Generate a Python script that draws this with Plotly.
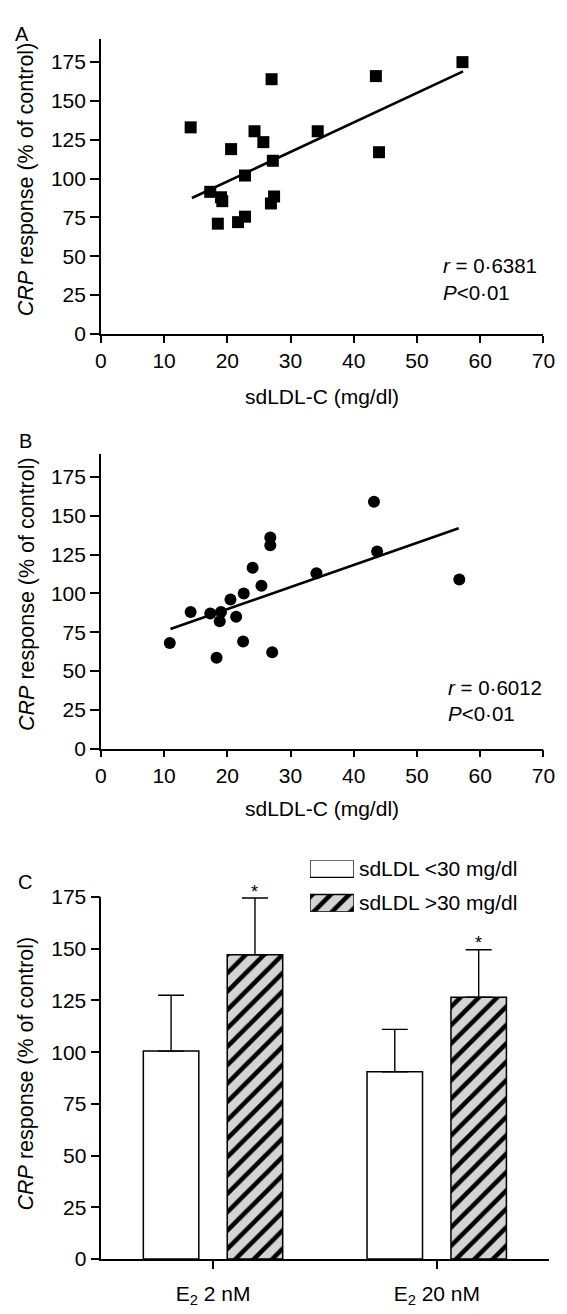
import plotly.graph_objects as go

# ---------------- data ----------------
# Panel A: sdLDL-C (mg/dl) vs CRP response (% of control), E2 2 nM
a_x = [14.2, 17.3, 19.0, 19.2, 18.5, 20.6, 21.7, 22.8, 22.8, 24.3, 25.7, 27.2, 27.0, 26.9, 27.4, 34.3, 43.5, 44.0, 57.2]
a_y = [133, 91.5, 88, 85.5, 71, 119, 72, 75.5, 102, 130.5, 123.5, 111.5, 164, 84, 88.5, 130.5, 166, 117, 175]
a_fit_x = [14.4, 57.3]
a_fit_y = [87.5, 169]
a_stats = ["<i>r</i> = 0·6381", "<i>P</i><0·01"]

# Panel B: sdLDL-C (mg/dl) vs CRP response (% of control), E2 20 nM
b_x = [10.9, 14.2, 17.3, 19.0, 18.8, 18.3, 20.5, 21.4, 22.6, 22.5, 24.0, 25.4, 26.8, 26.8, 27.1, 34.1, 43.2, 43.7, 56.7]
b_y = [68, 88, 87, 88, 82, 58.5, 96, 85, 100, 69, 116.5, 105, 136, 131, 62, 113, 159, 127, 109]
b_fit_x = [11.0, 56.6]
b_fit_y = [77, 142]
b_stats = ["<i>r</i> = 0·6012", "<i>P</i><0·01"]

# Panel C: grouped bars (mean + SE)
c_categories = ["E<sub>2</sub> 2 nM", "E<sub>2</sub> 20 nM"]
c_low = [100.5, 90.5]
c_low_err = [27, 20.5]
c_high = [147, 126.5]
c_high_err = [27.5, 23]
legend_labels = ["sdLDL <30 mg/dl", "sdLDL >30 mg/dl"]

y_ticks = [0, 25, 50, 75, 100, 125, 150, 175]
x_ticks = [0, 10, 20, 30, 40, 50, 60, 70]

# ---------------- style ----------------
W, H = 567, 1314
FONT = "Liberation Sans, Arial, Helvetica, sans-serif"
BLACK = "#000000"
HATCH_BG = "#d4d4d4"
FS = 21


def px_x(p):
    return p / W


def px_y(p):
    return (H - p) / H


fig = go.Figure()

# Panel A
fig.add_trace(go.Scatter(x=a_x, y=a_y, mode="markers", xaxis="x", yaxis="y",
                         marker=dict(symbol="square", size=12, color=BLACK), cliponaxis=False))
fig.add_trace(go.Scatter(x=a_fit_x, y=a_fit_y, mode="lines", xaxis="x", yaxis="y",
                         line=dict(color=BLACK, width=2.6)))

# Panel B
fig.add_trace(go.Scatter(x=b_x, y=b_y, mode="markers", xaxis="x2", yaxis="y2",
                         marker=dict(symbol="circle", size=12, color=BLACK), cliponaxis=False))
fig.add_trace(go.Scatter(x=b_fit_x, y=b_fit_y, mode="lines", xaxis="x2", yaxis="y2",
                         line=dict(color=BLACK, width=2.6)))

# Panel C
fig.add_trace(go.Bar(x=c_categories, y=c_low, xaxis="x3", yaxis="y3",
                     width=0.248, offset=-0.312, cliponaxis=False,
                     marker=dict(color="white", line=dict(color=BLACK, width=1.5)),
                     error_y=dict(type="data", array=c_low_err, arrayminus=[0, 0], symmetric=False,
                                  color=BLACK, thickness=1.4, width=13)))
fig.add_trace(go.Bar(x=c_categories, y=c_high, xaxis="x3", yaxis="y3",
                     width=0.248, offset=0.063, cliponaxis=False,
                     marker=dict(color=HATCH_BG, line=dict(color=BLACK, width=1.5),
                                 pattern=dict(shape="/", fgcolor=BLACK, bgcolor=HATCH_BG,
                                              size=13, solidity=0.35, fgopacity=1)),
                     error_y=dict(type="data", array=c_high_err, arrayminus=[0, 0], symmetric=False,
                                  color=BLACK, thickness=1.4, width=13)))

# Legend swatches for panel C (small dedicated axes)
fig.add_trace(go.Bar(x=[1], y=[legend_labels[0]], orientation="h", xaxis="x4", yaxis="y4",
                     width=0.5, offset=-0.25,
                     marker=dict(color="white", line=dict(color=BLACK, width=1.3))))
fig.add_trace(go.Bar(x=[1], y=[legend_labels[1]], orientation="h", xaxis="x4", yaxis="y4",
                     width=0.5, offset=-0.25,
                     marker=dict(color=HATCH_BG, line=dict(color=BLACK, width=1.3),
                                 pattern=dict(shape="/", fgcolor=BLACK, bgcolor=HATCH_BG,
                                              size=13, solidity=0.35, fgopacity=1))))

axis_common = dict(showline=True, linecolor=BLACK, linewidth=1.5, ticks="outside",
                   tickcolor=BLACK, tickwidth=1.5, showgrid=False, zeroline=False,
                   tickfont=dict(family=FONT, size=FS, color=BLACK))

xdom_ab = [px_x(98), px_x(555)]
ydom_c = [px_y(1269.3), px_y(900.7)]
yrange_c = [0, 175]
fig.update_layout(
    width=W, height=H,
    margin=dict(l=0, r=0, t=0, b=0),
    paper_bgcolor="white", plot_bgcolor="white",
    showlegend=False,
    font=dict(family=FONT, size=FS, color=BLACK),
    barmode="group",
    xaxis=dict(domain=xdom_ab, range=[0, 70], tickvals=x_ticks, ticklen=7, anchor="y", **axis_common),
    yaxis=dict(domain=[px_y(327.7), px_y(27.3)], range=[0, 190], tickvals=y_ticks, ticklen=9,
               anchor="x", **axis_common),
    xaxis2=dict(domain=xdom_ab, range=[0, 70], tickvals=x_ticks, ticklen=7, anchor="y2", **axis_common),
    yaxis2=dict(domain=[px_y(749.7), px_y(449.6)], range=[0, 190], tickvals=y_ticks, ticklen=9,
                anchor="x2", **axis_common),
    xaxis3=dict(domain=[px_x(98.4), px_x(560.5)], type="category", range=[-0.5, 1.5], ticklen=8,
                ticklabelstandoff=7, anchor="y3", **axis_common),
    yaxis3=dict(domain=ydom_c, range=yrange_c, tickvals=y_ticks, ticklen=9,
                anchor="x3", **axis_common),
    xaxis4=dict(domain=[px_x(314), px_x(359.3)], range=[0, 1], visible=False, anchor="y4"),
    yaxis4=dict(domain=[px_y(915.7), px_y(863.3)], type="category", range=[1.25, -0.25],
                side="right", anchor="x4", showline=False, showgrid=False, zeroline=False,
                ticks="", ticklabelstandoff=4,
                tickfont=dict(family=FONT, size=FS, color=BLACK)),
)

ann = []
# panel letters
for letter, (lx, ly) in {"A": (17, 22), "B": (20, 437), "C": (20, 885)}.items():
    ann.append(dict(text=letter, x=px_x(lx), y=px_y(ly), xref="paper", yref="paper",
                    showarrow=False, xanchor="center", yanchor="middle", font=dict(size=20)))
# y titles
for ycen in [170, 592, 1080]:
    ann.append(dict(text="<i>CRP</i> response (% of control)", x=px_x(21), y=px_y(ycen),
                    xref="paper", yref="paper", showarrow=False, textangle=-90,
                    xanchor="center", yanchor="middle", font=dict(size=21.5)))
# x titles
for ycen in [391, 811]:
    ann.append(dict(text="sdLDL-C (mg/dl)", x=(xdom_ab[0] + xdom_ab[1]) / 2, y=px_y(ycen),
                    xref="paper", yref="paper", showarrow=False,
                    xanchor="center", yanchor="middle", font=dict(size=FS)))
# stats
for (sx, y1, y2), stats in [((449, 258, 286), a_stats), ((454, 688, 714), b_stats)]:
    for yy, txt in zip([y1, y2], stats):
        ann.append(dict(text=txt, x=px_x(sx), y=px_y(yy), xref="paper", yref="paper",
                        showarrow=False, xanchor="left", yanchor="middle", font=dict(size=20.5)))
# significance stars above the >30 mg/dl bars (paper coords so they are not hidden above the range)
for i in range(len(c_categories)):
    v = c_high[i] + c_high_err[i] + 3
    yp = ydom_c[0] + (v - yrange_c[0]) / (yrange_c[1] - yrange_c[0]) * (ydom_c[1] - ydom_c[0])
    ann.append(dict(text="*", x=i + 0.187, y=yp, xref="x3", yref="paper",
                    showarrow=False, xanchor="center", yanchor="middle", font=dict(size=18)))
fig.update_layout(annotations=ann)

fig.write_html("out.html", config={"displayModeBar": False},
               post_script="document.body.style.margin='0';")
